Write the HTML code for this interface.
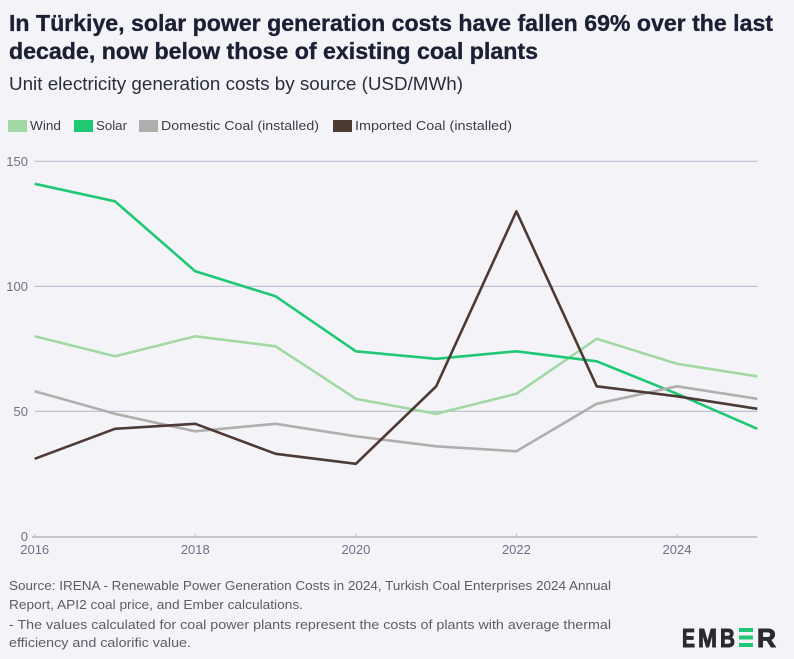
<!DOCTYPE html>
<html>
<head>
<meta charset="utf-8">
<style>
  html, body { margin:0; padding:0; background:#f4f4f8; }
  body { width:794px; height:659px; overflow:hidden; }
  svg { display:block; }
  text { font-family: "Liberation Sans", "DejaVu Sans", sans-serif; }
</style>
</head>
<body>
<svg width="794" height="659" viewBox="0 0 794 659" xmlns="http://www.w3.org/2000/svg">
  <rect x="0" y="0" width="794" height="659" fill="#f4f4f8"/>

  <!-- Title -->
  <g font-size="23" font-weight="bold" fill="#1b2035" stroke="#1b2035" stroke-width="0.35">
    <text x="9" y="31" textLength="764" lengthAdjust="spacingAndGlyphs">In Türkiye, solar power generation costs have fallen 69% over the last</text>
    <text x="9" y="59" textLength="529" lengthAdjust="spacingAndGlyphs">decade, now below those of existing coal plants</text>
  </g>

  <!-- Subtitle -->
  <text x="9" y="90" font-size="18" fill="#2a2d3c" textLength="454" lengthAdjust="spacingAndGlyphs">Unit electricity generation costs by source (USD/MWh)</text>

  <!-- Legend -->
  <rect x="8" y="120" width="19" height="12" fill="#a2d8a3"/>
  <text x="30" y="130" font-size="13" fill="#3a3d4a" textLength="31" lengthAdjust="spacingAndGlyphs">Wind</text>
  <rect x="74" y="120" width="19" height="12" fill="#1fc874"/>
  <text x="96" y="130" font-size="13" fill="#3a3d4a" textLength="31" lengthAdjust="spacingAndGlyphs">Solar</text>
  <rect x="139" y="120" width="19" height="12" fill="#b1aeae"/>
  <text x="161" y="130" font-size="13" fill="#3a3d4a" textLength="158" lengthAdjust="spacingAndGlyphs">Domestic Coal (installed)</text>
  <rect x="333" y="120" width="19" height="12" fill="#4e3a35"/>
  <text x="355" y="130" font-size="13" fill="#3a3d4a" textLength="157" lengthAdjust="spacingAndGlyphs">Imported Coal (installed)</text>

  <!-- Gridlines -->
  <g stroke="#b8bccf" stroke-width="1.2">
    <line x1="34.7" y1="161.3" x2="757.3" y2="161.3"/>
    <line x1="34.7" y1="286.3" x2="757.3" y2="286.3"/>
    <line x1="34.7" y1="411.3" x2="757.3" y2="411.3"/>
  </g>
  <!-- Axis -->
  <line x1="32" y1="537" x2="757.3" y2="537" stroke="#b5b8c4" stroke-width="1.5"/>
  <g stroke="#b5b8c4" stroke-width="1">
    <line x1="34.7" y1="534" x2="34.7" y2="537"/>
    <line x1="195.3" y1="534" x2="195.3" y2="537"/>
    <line x1="355.9" y1="534" x2="355.9" y2="537"/>
    <line x1="516.4" y1="534" x2="516.4" y2="537"/>
    <line x1="677" y1="534" x2="677" y2="537"/>
  </g>

  <!-- Y labels -->
  <g font-size="13" fill="#6d7186" text-anchor="end">
    <text x="28" y="166">150</text>
    <text x="28" y="291">100</text>
    <text x="28" y="416">50</text>
    <text x="28" y="541">0</text>
  </g>
  <!-- X labels -->
  <g font-size="13" fill="#6d7186" text-anchor="middle">
    <text x="34.7" y="554">2016</text>
    <text x="195.3" y="554">2018</text>
    <text x="355.9" y="554">2020</text>
    <text x="516.4" y="554">2022</text>
    <text x="677" y="554">2024</text>
  </g>

  <!-- Series -->
  <g fill="none" stroke-width="2.6" stroke-linejoin="round" stroke-linecap="butt">
    <polyline stroke="#a2d8a3" points="34.7,336.3 115,356.3 195.3,336.3 275.6,346.3 355.9,398.8 436.2,413.8 516.4,393.8 596.7,338.8 677,363.8 757.3,376.3"/>
    <polyline stroke="#1fc874" points="34.7,183.8 115,201.3 195.3,271.3 275.6,296.3 355.9,351.3 436.2,358.8 516.4,351.3 596.7,361.3 677,393.8 757.3,428.8"/>
    <polyline stroke="#b1aeae" points="34.7,391.3 115,413.8 195.3,431.3 275.6,423.8 355.9,436.3 436.2,446.3 516.4,451.3 596.7,403.8 677,386.3 757.3,398.8"/>
    <polyline stroke="#4e3a35" points="34.7,458.8 115,428.8 195.3,423.8 275.6,453.8 355.9,463.8 436.2,386.3 516.4,211.3 596.7,386.3 677,396.3 757.3,408.8"/>
  </g>

  <!-- Source -->
  <g font-size="13" fill="#5a5d68">
    <text x="9" y="590" textLength="602" lengthAdjust="spacingAndGlyphs">Source: IRENA - Renewable Power Generation Costs in 2024, Turkish Coal Enterprises 2024 Annual</text>
    <text x="9" y="609" textLength="294" lengthAdjust="spacingAndGlyphs">Report, API2 coal price, and Ember calculations.</text>
    <text x="9" y="629" textLength="602" lengthAdjust="spacingAndGlyphs">- The values calculated for coal power plants represent the costs of plants with average thermal</text>
    <text x="9" y="647" textLength="182" lengthAdjust="spacingAndGlyphs">efficiency and calorific value.</text>
  </g>

  <!-- EMBER logo -->
  <g font-size="26" font-weight="bold" fill="#2b2b2e" stroke="#2b2b2e" stroke-width="1">
    <text x="682" y="647" textLength="13" lengthAdjust="spacingAndGlyphs">E</text>
    <text x="698" y="647" textLength="19" lengthAdjust="spacingAndGlyphs">M</text>
    <text x="720" y="647" textLength="15" lengthAdjust="spacingAndGlyphs">B</text>
    <text x="757" y="647" textLength="19" lengthAdjust="spacingAndGlyphs">R</text>
  </g>
  <g fill="#1fc874">
    <rect x="739" y="628" width="14" height="4"/>
    <rect x="739" y="635.5" width="14" height="4"/>
    <rect x="739" y="643" width="14" height="4"/>
  </g>
</svg>
</body>
</html>
